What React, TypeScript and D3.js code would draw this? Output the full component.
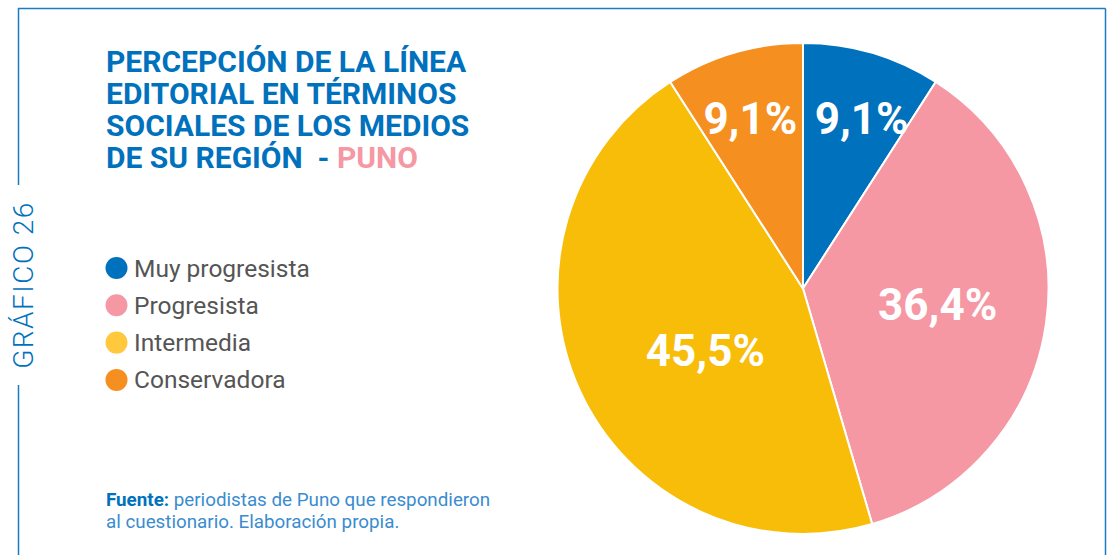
import React from "react";
import * as d3 from "d3";

const categories = ["Muy progresista", "Progresista", "Intermedia", "Conservadora"];
const values = [9.1, 36.4, 45.5, 9.1];
const valueLabels = ["9,1%", "36,4%", "45,5%", "9,1%"];
const sliceColors = ["#0071bc", "#f598a4", "#f8bd08", "#f58f20"];
const legendColors = ["#0071bc", "#f598a4", "#ffc83d", "#f58f20"];
const titleLines = ["PERCEPCIÓN DE LA LÍNEA", "EDITORIAL EN TÉRMINOS", "SOCIALES DE LOS MEDIOS", "DE SU REGIÓN\u00A0\u00A0- "];
const titleHighlight = "PUNO";

const W = 1111;
const H = 555;
const BLUE = "#0071bc";
const FRAME = "#1b7bc2";

// label placement (radius, pixel nudge) per slice — styling only
const labelPlace = [
  { r: 180, dx: 8, dy: 2 },
  { r: 134, dx: 2, dy: -3 },
  { r: 115, dx: 7, dy: 14 },
  { r: 180, dx: -2, dy: 2 },
];

export default function App() {
  const cx = 803;
  const cy = 288.5;
  const R = 245.5;
  const pie = d3.pie<number>().sort(null).value((d) => d)(values);
  const arc = d3.arc<d3.PieArcDatum<number>>().innerRadius(0).outerRadius(R);
  const font = "Roboto, 'Noto Sans', sans-serif";
  const labelFS = 44;

  return (
    <div style={{ position: "absolute", left: 0, top: 0, width: W, height: H, background: "#fff" }}>
      <svg width={W} height={H} style={{ display: "block" }}>
        <rect x={0} y={0} width={W} height={H} fill="#fff" />
        {/* frame */}
        <g stroke={FRAME} strokeWidth={1.5} fill="none">
          <line x1={18} y1={8.5} x2={1105.5} y2={8.5} />
          <line x1={1105.5} y1={8.5} x2={1105.5} y2={H} />
          <line x1={18.5} y1={8} x2={18.5} y2={185} />
          <line x1={18.5} y1={385} x2={18.5} y2={H} />
        </g>
        <text
          transform={`translate(${33}, ${285}) rotate(-90)`}
          textAnchor="middle"
          fontFamily={font}
          fontWeight={300}
          fontSize={28}
          letterSpacing={1.5}
          fill={BLUE}
        >
          GRÁFICO 26
        </text>

        {/* title */}
        <g fontFamily={font} fontWeight={700} fontSize={30} fill={BLUE}>
          {titleLines.map((t, i) => (
            <text key={i} x={106} y={72 + i * 32}>
              {t}
              {i === titleLines.length - 1 ? <tspan fill="#f598a4">{titleHighlight}</tspan> : null}
            </text>
          ))}
        </g>

        {/* legend */}
        <g fontFamily={font} fontSize={24.5} fill="#555">
          {categories.map((c, i) => (
            <g key={c} transform={`translate(0, ${268 + i * 37.3})`}>
              <circle cx={116.5} cy={0} r={11} fill={legendColors[i]} />
              <text x={134} y={8.5}>{c}</text>
            </g>
          ))}
        </g>

        {/* source */}
        <g fontFamily={font} fontSize={18.8} fill="#3a8ccf">
          <text x={106} y={506}>
            <tspan fontWeight={700} fill={BLUE}>Fuente:</tspan> periodistas de Puno que respondieron
          </text>
          <text x={106} y={528}>al cuestionario. Elaboración propia.</text>
        </g>

        {/* pie */}
        <g transform={`translate(${cx}, ${cy})`}>
          {pie.map((p, i) => (
            <path key={i} d={arc(p) || ""} fill={sliceColors[i]} stroke="#fff" strokeWidth={2} />
          ))}
          {pie.map((p, i) => {
            const lp = labelPlace[i];
            const la = d3.arc<d3.PieArcDatum<number>>().innerRadius(lp.r).outerRadius(lp.r);
            const [x, y] = la.centroid(p);
            return (
              <text
                key={"l" + i}
                x={x + lp.dx}
                y={y + lp.dy + labelFS * 0.36}
                textAnchor="middle"
                fontFamily={font}
                fontWeight={700}
                fontSize={labelFS}
                fill="#fff"
              >
                {valueLabels[i]}
              </text>
            );
          })}
        </g>
      </svg>
    </div>
  );
}
